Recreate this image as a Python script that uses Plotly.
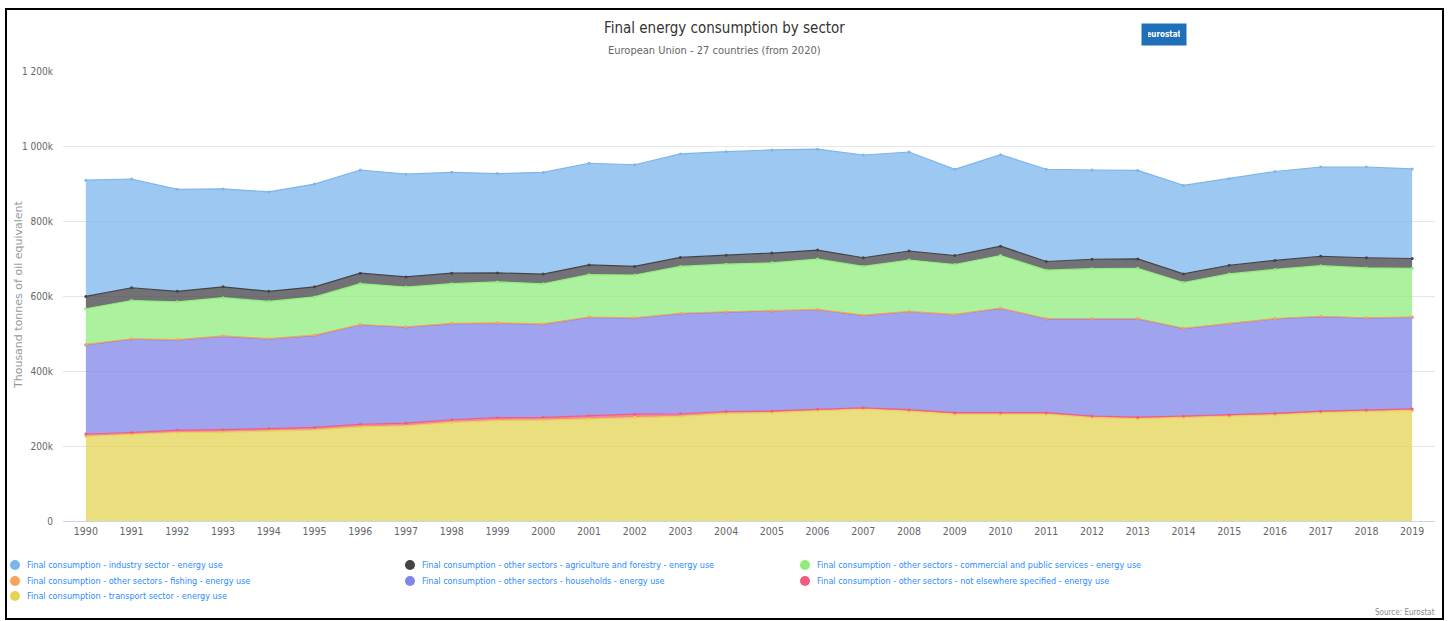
import plotly.graph_objects as go

years = list(range(1990, 2020))

# values in thousand tonnes of oil equivalent, in thousands (k)
industry = [310, 290, 272, 261, 265, 274, 275, 274, 269, 265, 271, 271, 271, 276, 276,
            275, 269, 274, 264, 230, 244, 246, 238, 236, 236, 231, 237, 238, 242, 239]
agriculture = [33, 34, 28, 29, 27, 27, 28, 27, 28, 24, 26, 26, 23, 24, 24,
               26, 24, 23, 24, 24, 25, 23, 25, 25, 23, 23, 24, 25, 27, 26]
commercial = [95, 102, 101, 102, 99, 102, 109, 106, 106, 109, 107, 113, 114, 125, 127,
              128, 134, 130, 137, 133, 140, 129, 133, 134, 122, 132, 131, 135, 133, 130]
fishing = [1.4, 1.4, 1.4, 1.3, 1.3, 1.3, 1.3, 1.3, 1.3, 1.3, 1.3, 1.3, 1.2, 1.2, 1.2,
           1.1, 1.1, 1.1, 1.0, 1.0, 1.0, 1.0, 0.9, 0.9, 0.9, 0.9, 0.9, 0.9, 0.9, 0.9]
households = [237.6, 248.6, 239.6, 248.7, 238.7, 244.7, 264.7, 255.7, 255.7, 251.7, 247.7,
              261.7, 255.8, 266.8, 264.8, 265.9, 264.9, 245.9, 261.0, 261.0, 278.0, 250.0,
              259.1, 262.1, 233.1, 243.1, 252.1, 252.1, 245.1, 244.1]
not_specified = [6, 6, 6.5, 6.5, 6.5, 6.5, 7, 7, 7, 7.5, 7.5, 8, 8, 7, 5,
                 4.5, 4.5, 4, 4, 4, 4, 4, 4, 4, 4, 4, 4, 4, 4, 4]
transport = [226, 230, 236, 237, 240, 243, 251, 254, 263, 268, 269, 273, 277, 279, 287,
             289, 294, 298, 293, 285, 285, 285, 276, 273, 276, 279, 283, 289, 292, 295]

names = [
    "Final consumption - industry sector - energy use",
    "Final consumption - other sectors - agriculture and forestry - energy use",
    "Final consumption - other sectors - commercial and public services - energy use",
    "Final consumption - other sectors - fishing - energy use",
    "Final consumption - other sectors - households - energy use",
    "Final consumption - other sectors - not elsewhere specified - energy use",
    "Final consumption - transport sector - energy use",
]
series = [industry, agriculture, commercial, fishing, households, not_specified, transport]
colors = ["#7cb5ec", "#434348", "#90ed7d", "#f7a35c", "#8085e9", "#f15c80", "#e4d354"]

ytick_vals = [0, 200, 400, 600, 800, 1000, 1200]
ytick_text = ["0", "200k", "400k", "600k", "800k", "1 000k", "1 200k"]

W, H = 1451, 621
ML, MR, MT, MB = 63, 16, 71, 100
PW, PH = W - ML - MR, H - MT - MB


def px(x):
    return (x - ML) / PW


def py(y):
    return (H - MB - y) / PH


def rgba(hexc, a):
    h = hexc.lstrip("#")
    return f"rgba({int(h[0:2],16)},{int(h[2:4],16)},{int(h[4:6],16)},{a})"


NARROW = "DejaVu Sans Condensed, Liberation Sans, sans-serif"

fig = go.Figure()
# stack bottom-up (reverse of legend order)
for name, vals, col in reversed(list(zip(names, series, colors))):
    fig.add_trace(go.Scatter(
        x=years, y=vals, name=name, stackgroup="one",
        mode="lines+markers", line=dict(color=col, width=1.2),
        marker=dict(color=col, size=3), fillcolor=rgba(col, 0.75),
        showlegend=False,
    ))

fig.update_layout(
    width=W, height=H,
    margin=dict(l=ML, r=MR, t=MT, b=MB, autoexpand=False),
    plot_bgcolor="white", paper_bgcolor="white",
    xaxis=dict(
        range=[1989.5, 2019.5], tickmode="array", tickvals=years,
        ticktext=[str(y) for y in years], showgrid=False, showline=True,
        linecolor="#ccd6eb", linewidth=1, ticks="", zeroline=False, automargin=False,
        tickfont=dict(family=NARROW, size=10.5, color="#666666"),
    ),
    yaxis=dict(
        range=[0, 1200], tickmode="array", tickvals=ytick_vals, ticktext=ytick_text,
        showgrid=True, gridcolor="#e6e6e6", gridwidth=1, zeroline=False,
        ticks="", ticklabelstandoff=9, automargin=False,
        tickfont=dict(family=NARROW, size=10, color="#666666"),
    ),
    showlegend=False,
    hovermode=False,
)

# y-axis title
fig.add_annotation(text="Thousand tonnes of oil equivalent", xref="paper", yref="paper",
                   x=px(18), y=py(295), xanchor="center", yanchor="middle", textangle=-90,
                   showarrow=False,
                   font=dict(family="DejaVu Sans", size=11, color="#999999"))

# legend (3 columns, markers + blue text)
col_x = [15, 410, 805]
row_y = [565, 581, 596]
for i, (name, col) in enumerate(zip(names, colors)):
    cx, cy = col_x[i % 3], row_y[i // 3]
    fig.add_shape(type="circle", xref="paper", yref="paper",
                  xsizemode="pixel", ysizemode="pixel",
                  xanchor=px(cx), yanchor=py(cy), x0=-5, x1=5, y0=-5, y1=5,
                  line=dict(width=0), fillcolor=col)
    fig.add_annotation(text=name, xref="paper", yref="paper",
                       x=px(cx + 10), y=py(cy), xanchor="left", yanchor="middle",
                       showarrow=False,
                       font=dict(family=NARROW, size=9, color="#2b8cff"))

# title and subtitle
fig.add_annotation(text="Final energy consumption by sector", xref="paper", yref="paper",
                   x=px(724), y=py(28), xanchor="center", yanchor="middle", showarrow=False,
                   font=dict(family=NARROW, size=15, color="#333333"))
fig.add_annotation(text="European Union - 27 countries (from 2020)", xref="paper", yref="paper",
                   x=px(714), y=py(50), xanchor="center", yanchor="middle", showarrow=False,
                   font=dict(family=NARROW, size=11, color="#666666"))
# outer frame
fig.add_shape(type="rect", xref="paper", yref="paper",
              x0=px(6), x1=px(1443), y0=py(619), y1=py(9),
              line=dict(color="black", width=2), fillcolor="rgba(0,0,0,0)", layer="above")
# eurostat logo
fig.add_annotation(text="<b>eurostat</b>", xref="paper", yref="paper",
                   x=px(1164), y=py(34), xanchor="center", yanchor="middle", showarrow=False,
                   bgcolor="#1f70b8", borderpad=6, width=32,
                   font=dict(family=NARROW, size=8, color="white"))
# source credit
fig.add_annotation(text="Source: Eurostat", xref="paper", yref="paper",
                   x=px(1437), y=py(612), xanchor="right", yanchor="middle", showarrow=False,
                   font=dict(family=NARROW, size=8, color="#888888"))

fig.write_html("out.html", config={"displayModeBar": False},
               post_script="document.body.style.margin='0';document.body.style.padding='0';"
                           "document.documentElement.style.overflow='hidden';")
